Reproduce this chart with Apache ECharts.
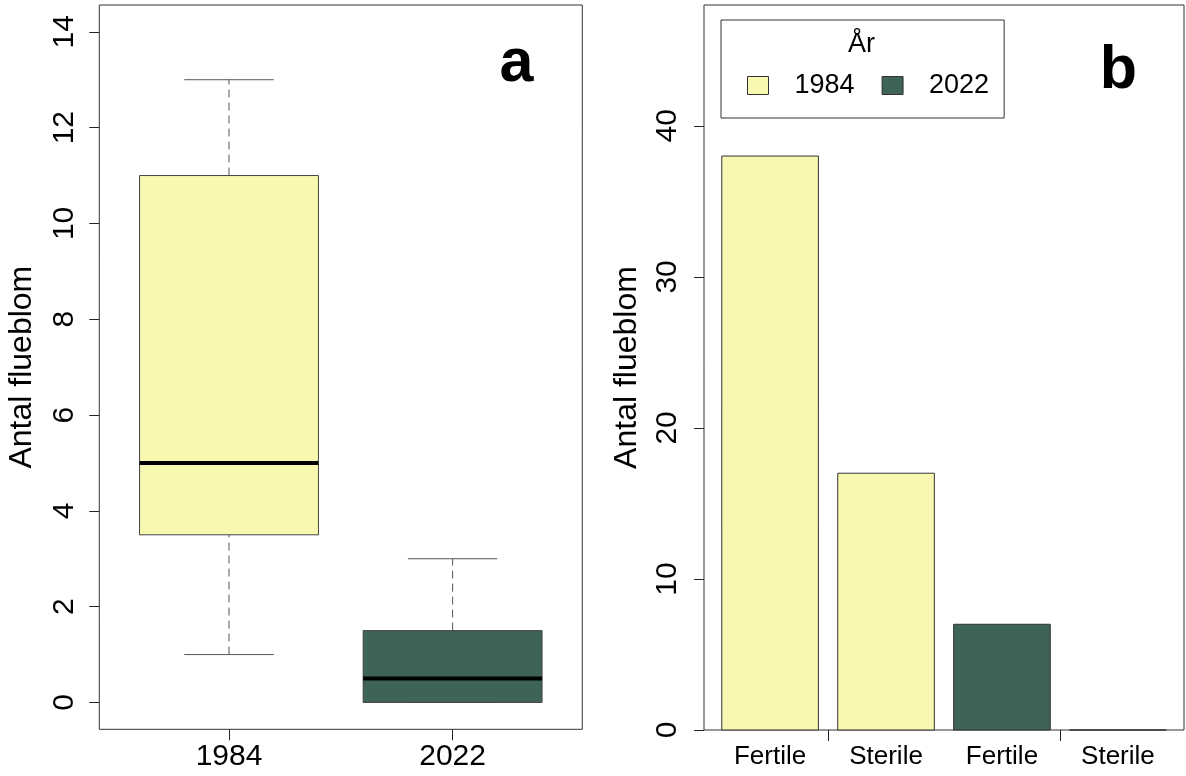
<!DOCTYPE html>
<html>
<head>
<meta charset="utf-8">
<script src="https://cdn.jsdelivr.net/npm/echarts@6/dist/echarts.min.js"></script>
<style>
  html, body { margin: 0; padding: 0; background: #ffffff; }
  #chart { width: 1186px; height: 776px; }
</style>
</head>
<body>
<div id="chart"></div>
<script>
// ---------- Data ----------
// Panel a: boxplot per year
const boxYears = ['1984', '2022'];
const boxLow = [1, 0];
const boxQ1 = [3.5, 0];
const boxMedian = [5, 0.5];
const boxQ3 = [11, 1.5];
const boxHigh = [13, 3];
const yTicksA = [0, 2, 4, 6, 8, 10, 12, 14];

// Panel b: bar counts
const barCategories = ['Fertile', 'Sterile', 'Fertile', 'Sterile'];
const barYears = ['1984', '1984', '2022', '2022'];
const barCounts = [38, 17, 7, 0];
const yTicksB = [0, 10, 20, 30, 40];

const yearNames = ['1984', '2022'];
const yearColors = { '1984': '#F8F8B1', '2022': '#3E6455' };

const axisTitle = 'Antal flueblom';
const legendTitle = 'År';
const panelLetters = ['a', 'b'];

// ---------- Layout helpers (R-style positions) ----------
const FONT = 'Liberation Sans, Arial, sans-serif';
// boxplot positions 1..n
const boxPos = boxYears.map((_, i) => i + 1);
// barplot positions (width 1, space 0.2)
const barPos = barCounts.map((_, i) => 0.2 + 0.5 + i * 1.2);
const barTickPos = [(barPos[0] + barPos[1]) / 2, (barPos[2] + barPos[3]) / 2];

const boxData = boxYears.map((y, i) => [boxPos[i], boxLow[i], boxQ1[i], boxMedian[i], boxQ3[i], boxHigh[i], i]);

function barSeriesData(year) {
  const out = [];
  barCounts.forEach((v, i) => { if (barYears[i] === year) out.push([barPos[i], v]); });
  return out;
}

function nearestLabel(v, positions, labels) {
  let best = 0, bd = Infinity;
  positions.forEach((p, i) => { const d = Math.abs(p - v); if (d < bd) { bd = d; best = i; } });
  return labels[best];
}

const chart = echarts.init(document.getElementById('chart'), null, { renderer: 'canvas' });

const commonTick = { show: true, inside: false, length: 10, lineStyle: { color: '#222', width: 1 } };
const hiddenLine = { show: false, onZero: false };

const option = {
  backgroundColor: '#ffffff',
  animation: false,
  textStyle: { fontFamily: FONT },
  grid: [
    { left: 99.3, top: 5, width: 483, height: 724.3, show: true, borderColor: '#333', borderWidth: 1, backgroundColor: 'transparent' },
    { left: 704, top: 5, width: 480, height: 725, show: true, borderColor: '#333', borderWidth: 1, backgroundColor: 'transparent' }
  ],
  xAxis: [
    {
      gridIndex: 0, type: 'value', min: 0.42, max: 2.58,
      axisLine: hiddenLine, splitLine: { show: false },
      axisTick: Object.assign({}, commonTick, { length: 11, customValues: boxPos }),
      axisLabel: {
        customValues: boxPos, margin: 12, color: '#000', fontSize: 30, fontFamily: FONT,
        formatter: v => nearestLabel(v, boxPos, boxYears)
      }
    },
    {
      gridIndex: 1, type: 'value', min: 0.016, max: 4.984,
      axisLine: hiddenLine, splitLine: { show: false },
      axisTick: Object.assign({}, commonTick, { length: 11, customValues: barTickPos }),
      axisLabel: {
        customValues: barPos, margin: 14, color: '#000', fontSize: 26, fontFamily: FONT,
        formatter: v => nearestLabel(v, barPos, barCategories)
      }
    }
  ],
  yAxis: [
    {
      gridIndex: 0, type: 'value', min: -0.56, max: 14.56,
      axisLine: hiddenLine, splitLine: { show: false },
      axisTick: Object.assign({}, commonTick, { customValues: yTicksA }),
      axisLabel: { customValues: yTicksA, rotate: 90, margin: 20, color: '#000', fontSize: 30, fontFamily: FONT },
      name: axisTitle, nameLocation: 'middle', nameRotate: 90, nameGap: 61,
      nameTextStyle: { color: '#000', fontSize: 32, fontFamily: FONT }
    },
    {
      gridIndex: 1, type: 'value', min: 0, max: 48,
      axisLine: hiddenLine, splitLine: { show: false },
      axisTick: Object.assign({}, commonTick, { customValues: yTicksB }),
      axisLabel: { customValues: yTicksB, rotate: 90, margin: 21, color: '#000', fontSize: 30, fontFamily: FONT },
      name: axisTitle, nameLocation: 'middle', nameRotate: 90, nameGap: 61,
      nameTextStyle: { color: '#000', fontSize: 32, fontFamily: FONT }
    }
  ],
  legend: {
    data: yearNames,
    left: 721, top: 20,
    orient: 'horizontal',
    selectedMode: false,
    icon: 'rect',
    itemWidth: 21, itemHeight: 18, itemGap: 27,
    padding: [52, 15, 19, 26],
    borderColor: '#333', borderWidth: 1,
    itemStyle: { borderColor: '#333', borderWidth: 1 },
    textStyle: { color: '#000', fontSize: 27, fontFamily: FONT, padding: [0, 0, 0, 21] }
  },
  graphic: [
    { type: 'text', x: 516.5, y: 64, style: { text: panelLetters[0], font: 'bold 61px ' + FONT, fill: '#000', align: 'center', verticalAlign: 'middle' } },
    { type: 'text', x: 1118.5, y: 71, style: { text: panelLetters[1], font: 'bold 61px ' + FONT, fill: '#000', align: 'center', verticalAlign: 'middle' } },
    { type: 'text', x: 861.5, y: 45, style: { text: legendTitle, font: '27px ' + FONT, fill: '#000', align: 'center', verticalAlign: 'middle' } }
  ],
  series: [
    {
      name: 'box', type: 'custom', xAxisIndex: 0, yAxisIndex: 0,
      data: boxData,
      renderItem: function (params, api) {
        const x = api.value(0);
        const low = api.value(1), q1 = api.value(2), med = api.value(3), q3 = api.value(4), high = api.value(5);
        const idx = api.value(6);
        const fill = yearColors[boxYears[idx]];
        const halfBox = 0.4, halfCap = 0.2;
        const c = (xx, yy) => api.coord([xx, yy]);
        const dash = { stroke: '#555', lineWidth: 1, lineDash: [8, 5] };
        const solid = { stroke: '#555', lineWidth: 1 };
        const pHigh = c(x, high), pQ3 = c(x, q3), pQ1 = c(x, q1), pLow = c(x, low);
        const capHL = c(x - halfCap, high), capHR = c(x + halfCap, high);
        const capLL = c(x - halfCap, low), capLR = c(x + halfCap, low);
        const bTL = c(x - halfBox, q3), bBR = c(x + halfBox, q1);
        const mL = c(x - halfBox, med), mR = c(x + halfBox, med);
        return {
          type: 'group',
          children: [
            { type: 'line', shape: { x1: pQ3[0], y1: pQ3[1], x2: pHigh[0], y2: pHigh[1] }, style: dash },
            { type: 'line', shape: { x1: pLow[0], y1: pLow[1], x2: pQ1[0], y2: pQ1[1] }, style: dash },
            { type: 'line', shape: { x1: capHL[0], y1: capHL[1], x2: capHR[0], y2: capHR[1] }, style: solid },
            { type: 'line', shape: { x1: capLL[0], y1: capLL[1], x2: capLR[0], y2: capLR[1] }, style: solid },
            { type: 'rect', shape: { x: bTL[0], y: bTL[1], width: bBR[0] - bTL[0], height: bBR[1] - bTL[1] }, style: { fill: fill, stroke: '#444', lineWidth: 1 } },
            { type: 'line', shape: { x1: mL[0], y1: mL[1], x2: mR[0], y2: mR[1] }, style: { stroke: '#000', lineWidth: 4 } }
          ]
        };
      }
    }
  ].concat(yearNames.map(year => ({
    name: year, type: 'custom', xAxisIndex: 1, yAxisIndex: 1,
    itemStyle: { color: yearColors[year], borderColor: '#333', borderWidth: 1 },
    data: barSeriesData(year),
    renderItem: function (params, api) {
      const x = api.value(0), v = api.value(1);
      const p0 = api.coord([x - 0.5, v]);
      const p1 = api.coord([x + 0.5, 0]);
      return {
        type: 'rect',
        shape: { x: p0[0], y: p0[1], width: p1[0] - p0[0], height: p1[1] - p0[1] },
        style: { fill: yearColors[year], stroke: '#333', lineWidth: 1 }
      };
    }
  })))
};

chart.setOption(option);
</script>
</body>
</html>
